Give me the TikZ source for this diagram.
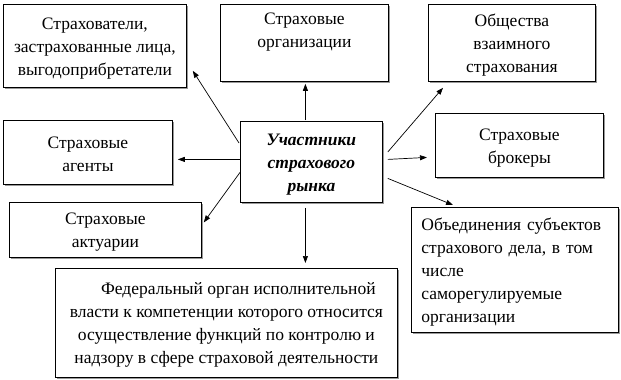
\documentclass[tikz,border=0pt]{standalone}
\usepackage{fontspec}
\setmainfont{Liberation Serif}
\usetikzlibrary{arrows.meta,shadows}
\newcommand\tfix{\rule{0pt}{16pt}}
\begin{document}
\begin{tikzpicture}[x=1pt,y=-1pt,
  box/.style={draw=black,line width=0.8pt,fill=white,inner sep=0pt,
    anchor=north west,align=center,
    font=\fontsize{17.5}{23}\selectfont,
    drop shadow={shadow xshift=1.3pt,shadow yshift=-1.3pt,fill=black!40,opacity=1}},
  arr/.style={draw=black,line width=0.7pt,-{Triangle[length=7pt,width=5pt]}}]
\useasboundingbox (0,0) rectangle (621,380);
\fill[white] (0,0) rectangle (621,380);

\node[box,minimum width=183pt,minimum height=83pt] (b1) at (3,4)
  {\tfix Страхователи,\\застрахованные лица,\\выгодоприбретатели};
\node[box,minimum width=168pt,minimum height=77pt] (b2) at (220,4)
  {\tfix Страховые\\организации\\\strut};
\node[box,minimum width=167pt,minimum height=77pt] (b3) at (428,4)
  {\tfix Общества\\взаимного\\страхования};
\node[box,minimum width=169pt,minimum height=64pt] (ag) at (3,120)
  {\tfix Страховые\\агенты};
\node[box,minimum width=142pt,minimum height=81pt,font=\fontsize{17.5}{23}\selectfont\bfseries\itshape] (ctr) at (240,121)
  {\tfix Участники\\страхового\\рынка};
\node[box,minimum width=168pt,minimum height=64pt] (br) at (435,113)
  {\tfix Страховые\\брокеры};
\node[box,minimum width=192pt,minimum height=55pt] (act) at (9,202)
  {\tfix Страховые\\актуарии};
\node[box,minimum width=342pt,minimum height=109pt] (fed) at (55,268)
  {\tfix\hspace*{24pt}Федеральный орган исполнительной\\власти к компетенции которого относится\\осуществление функций по контролю и\\надзору в сфере страховой деятельности};
\node[box,minimum width=207pt,minimum height=125pt,text width=187pt,align=left] (obj) at (411,207)
  {\tfix Объединения субъектов\\страхового дела, в том\\числе\\саморегулируемые\\организации};

\draw[arr] ([shift={(-1,22)}]ctr.north west) -- ([shift={(6,-17)}]b1.south east);
\draw[arr] ([shift={(1,-1)}]b2.south |- ctr.north) -- ([shift={(1,2)}]b2.south);
\draw[arr] ([shift={(5,31)}]ctr.north east) -- ([shift={(15,6)}]b3.south west);
\draw[arr] ([shift={(5,-2.5)}]ctr.east) -- ([shift={(-8,12)}]br.west);
\draw[arr] ([shift={(0,-2.5)}]ctr.west) -- ([shift={(5,7)}]ag.east);
\draw[arr] ([shift={(0,10.5)}]ctr.west) -- ([shift={(2,-7.5)}]act.east);
\draw[arr] ([shift={(-6,5)}]ctr.south) -- ([shift={(-6,-5)}]ctr.south |- fed.north);
\draw[arr] ([shift={(5,16.5)}]ctr.east) -- ([shift={(42,-2)}]obj.north west);
\end{tikzpicture}
\end{document}
